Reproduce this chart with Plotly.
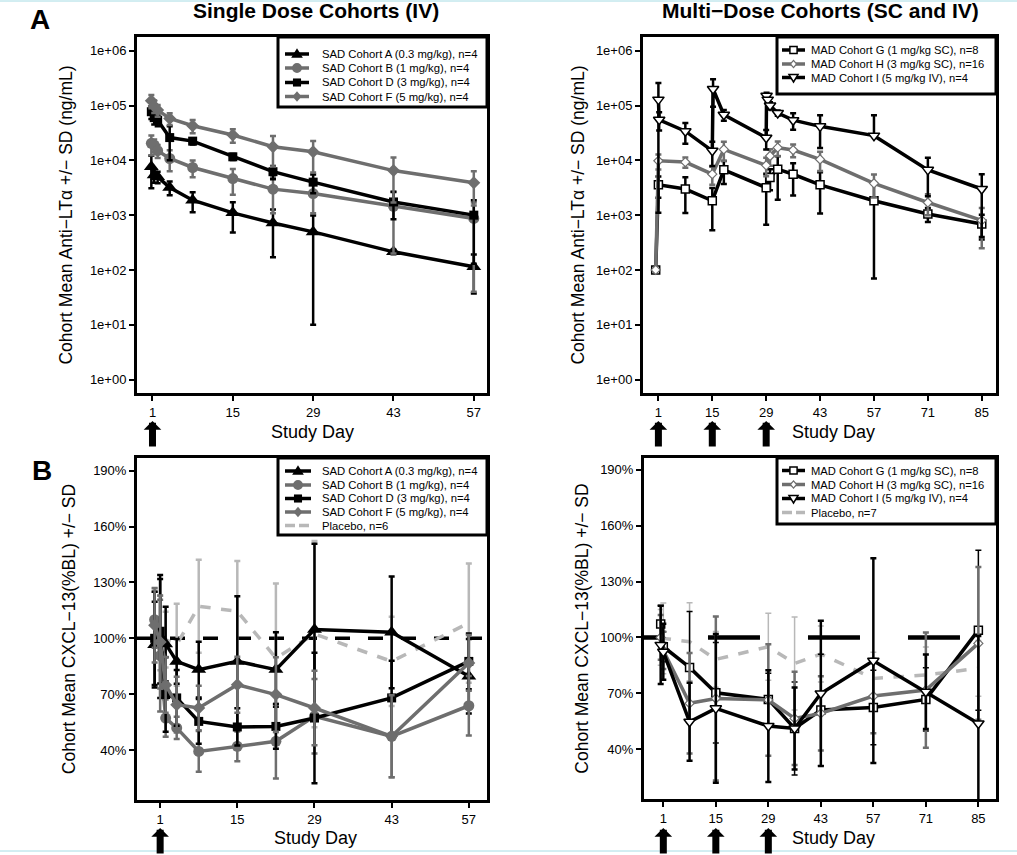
import plotly.graph_objects as go

FONT = "Arial, Liberation Sans, sans-serif"
BLACK = "#000000"
GRAY = "#6e6e6e"
LGRAY = "#b8b8b8"

# ---------------- Panel A (left): single-dose PK ----------------
sad_pk_days = [0.8, 1.3, 1.9, 4, 8, 15, 22, 29, 43, 57]
sad_pk_A = [7600, 5400, 5000, 3200, 1875, 1100, 720, 495, 214, 114]
sad_pk_A_sd = [4500, 1500, 1200, 900, 750, 620, 550, 485, 20, 77]
sad_pk_B = [20400, 19000, 15000, 10800, 7400, 4650, 2980, 2480, 1450, 870]
sad_pk_B_sd = [8000, 5000, 4000, 4500, 2500, 2300, 1900, 1400, 1250, 830]
sad_pk_D = [77000, 60000, 54000, 26000, 22400, 11600, 6200, 4000, 1740, 1000]
sad_pk_D_sd = [20000, 15000, 12000, 16000, 3000, 1500, 1700, 1500, 900, 870]
sad_pk_F = [122000, 98000, 82600, 58000, 42700, 29000, 17700, 14300, 6500, 3900]
sad_pk_F_sd = [33000, 25000, 20000, 14000, 11500, 8000, 10000, 8300, 4800, 2400]

# ---------------- Panel A (right): multi-dose PK ----------------
mad_pk_GH_days = [0.3, 1, 8, 15, 18, 29, 30, 32, 36, 43, 57, 71, 85]
mad_pk_G = [100, 3570, 2990, 1830, 6700, 3170, 4850, 6900, 5570, 3570, 1830, 1050, 690]
mad_pk_G_sd = [0, 1500, 1900, 1300, 3000, 2500, 2000, 5000, 3300, 2500, 1760, 300, 330]
mad_pk_H = [100, 9800, 9300, 5600, 15800, 8100, 12000, 17000, 15400, 10400, 3800, 1700, 800]
mad_pk_H_sd = [0, 3000, 2000, 2000, 6000, 3000, 4000, 5000, 4000, 4000, 1700, 700, 550]
mad_pk_I_days = [1, 1.2, 8, 15, 15.2, 18, 29, 29.1, 29.4, 30, 32, 36, 43, 57, 71, 85]
mad_pk_I = [128000, 55000, 34000, 14900, 200000, 68000, 25800, 151000, 128000, 100000,
            73000, 54000, 41700, 28200, 6700, 3000]
mad_pk_I_plus = [129000, 20000, 14000, 7000, 102000, 15000, 10000, 20000, 20000, 15000,
                 8000, 18000, 25000, 38000, 4500, 2600]
mad_pk_I_minus = [126900, 20000, 14000, 7000, 105000, 15000, 10000, 20000, 20000, 15000,
                  8000, 18000, 25000, 0, 4500, 2600]

# ---------------- Panel B (left): single-dose CXCL-13 ----------------
sad_cx_days = [0, 1, 2, 4, 8, 15, 22, 29, 43, 57]
sad_cx_A = [96.6, 101, 97, 87.6, 83.2, 87.6, 83.2, 104.7, 103.2, 79.6]
sad_cx_A_sd = [23, 33, 20, 12, 15, 35, 20, 46, 30, 20]
sad_cx_B = [110, 90.7, 57.2, 51.9, 39.3, 42.0, 44.7, 58.1, 47.4, 63.8]
sad_cx_B_sd = [15, 30, 10, 6, 11, 8, 20, 20, 22, 16]
sad_cx_D = [100, 103.8, 69.8, 68.0, 55.4, 52.4, 52.7, 57.2, 68.0, 87.6]
sad_cx_D_sd = [25, 28, 20, 15, 12, 10, 12, 35, 20, 15]
sad_cx_F = [107, 98, 75, 64.4, 62.6, 75.1, 69.8, 62.6, 47.4, 86.8]
sad_cx_F_sd = [20, 25, 15, 15, 12, 15, 20, 20, 22, 15]
sad_cx_P = [111.8, 102.9, 99.3, 96.6, 117.2, 114.5, 89.4, 102.3, 87.6, 108.2]
sad_cx_P_sd = [15, 20, 15, 22, 25, 27, 40, 50, 24, 32]

# ---------------- Panel B (right): multi-dose CXCL-13 ----------------
mad_cx_days = [0.3, 1, 8, 15, 29, 36, 43, 57, 71, 85]
mad_cx_G = [107.2, 95.0, 83.9, 70.3, 66.7, 51.1, 61.0, 62.4, 66.7, 103.9]
mad_cx_G_sd = [10, 8, 30, 27, 14, 25, 30, 20, 17, 43]
mad_cx_H = [100, 93, 64.6, 67.2, 66.4, 56.5, 59.2, 68.5, 71.7, 96.8]
mad_cx_H_sd = [12, 10, 27, 44, 30, 25, 20, 20, 31, 41]
mad_cx_I = [96, 92.3, 54.7, 61.9, 52.4, 51.1, 69.9, 87.5, 70.8, 53.8]
mad_cx_I_sd = [21, 15, 21, 40, 30, 22, 39, 55, 20, 47]
mad_cx_P = [100, 99.5, 97.7, 88.2, 95.0, 86.0, 91.1, 78.0, 79.8, 83.4]
mad_cx_P_sd = [15, 19, 21, 15, 18, 25, 15, 14, 15, 15]

# tick labels
pk_tickvals = [1, 10, 100, 1000, 10000, 100000, 1000000]
pk_ticktext = ["1e+00", "1e+01", "1e+02", "1e+03", "1e+04", "1e+05", "1e+06"]
cx_tickvals = [40, 70, 100, 130, 160, 190]
cx_ticktext = ["40%", "70%", "100%", "130%", "160%", "190%"]
sad_xticks = [1, 15, 29, 43, 57]
mad_xticks = [1, 15, 29, 43, 57, 71, 85]
sad_dose_days = [1]
mad_dose_days = [1, 15, 29]
baseline_pct = 100

SAD_NAMES = ["SAD Cohort A (0.3 mg/kg), n=4", "SAD Cohort B (1 mg/kg), n=4",
             "SAD Cohort D (3 mg/kg), n=4", "SAD Cohort F (5 mg/kg), n=4"]
MAD_NAMES = ["MAD Cohort G (1 mg/kg SC), n=8", "MAD Cohort H (3 mg/kg SC), n=16",
             "MAD Cohort I (5 mg/kg IV), n=4"]

W, H = 1017, 855
fig = go.Figure()

# style per series: (color, symbol, size, fill, line colour, line width of marker)
STY = {
    "A": (BLACK, "triangle-up", 13, None, None, 0),
    "B": (GRAY, "circle", 11, None, None, 0),
    "D": (BLACK, "square", 9, None, None, 0),
    "F": (GRAY, "diamond", 10, None, None, 0),
    "G": (BLACK, "square", 8, "white", BLACK, 1.5),
    "H": (GRAY, "diamond", 7, "white", GRAY, 1.2),
    "I": (BLACK, "triangle-down", 10, "white", BLACK, 1.5),
}


def add(x, y, plus, name, key, xa, ya, minus=None, ethick=2.5):
    color, symbol, size, fill, mline, mlw = STY[key]
    err = dict(type="data", array=plus, color=color, thickness=ethick, width=3, visible=True)
    if minus is not None:
        err["symmetric"] = False
        err["arrayminus"] = minus
    fig.add_trace(go.Scatter(
        x=x, y=y, name=name, mode="lines+markers", showlegend=False,
        line=dict(color=color, width=3.5),
        marker=dict(symbol=symbol, size=size, color=fill if fill else color,
                    line=dict(color=mline if mline else color, width=mlw)),
        error_y=err, xaxis=xa, yaxis=ya))


def add_placebo(x, y, sd, name, xa, ya, ethick=2.5):
    fig.add_trace(go.Scatter(
        x=x, y=y, name=name, mode="lines", showlegend=False,
        line=dict(color=LGRAY, width=3.5, dash="dash"),
        error_y=dict(type="data", array=sd, color=LGRAY, thickness=ethick, width=3),
        xaxis=xa, yaxis=ya))


# Panel A left
add(sad_pk_days, sad_pk_A, sad_pk_A_sd, SAD_NAMES[0], "A", "x", "y")
add(sad_pk_days, sad_pk_B, sad_pk_B_sd, SAD_NAMES[1], "B", "x", "y")
add(sad_pk_days, sad_pk_D, sad_pk_D_sd, SAD_NAMES[2], "D", "x", "y")
add(sad_pk_days, sad_pk_F, sad_pk_F_sd, SAD_NAMES[3], "F", "x", "y")
# Panel A right
add(mad_pk_GH_days, mad_pk_G, mad_pk_G_sd, MAD_NAMES[0], "G", "x2", "y2")
add(mad_pk_GH_days, mad_pk_H, mad_pk_H_sd, MAD_NAMES[1], "H", "x2", "y2")
add(mad_pk_I_days, mad_pk_I, mad_pk_I_plus, MAD_NAMES[2], "I", "x2", "y2", minus=mad_pk_I_minus)
# Panel B left
add_placebo(sad_cx_days, sad_cx_P, sad_cx_P_sd, "Placebo, n=6", "x3", "y3")
add(sad_cx_days, sad_cx_A, sad_cx_A_sd, SAD_NAMES[0], "A", "x3", "y3")
add(sad_cx_days, sad_cx_B, sad_cx_B_sd, SAD_NAMES[1], "B", "x3", "y3")
add(sad_cx_days, sad_cx_D, sad_cx_D_sd, SAD_NAMES[2], "D", "x3", "y3")
add(sad_cx_days, sad_cx_F, sad_cx_F_sd, SAD_NAMES[3], "F", "x3", "y3")
# Panel B right
add_placebo(mad_cx_days, mad_cx_P, mad_cx_P_sd, "Placebo, n=7", "x4", "y4", ethick=1.5)
add(mad_cx_days, mad_cx_G, mad_cx_G_sd, MAD_NAMES[0], "G", "x4", "y4", ethick=1.5)
add(mad_cx_days, mad_cx_H, mad_cx_H_sd, MAD_NAMES[1], "H", "x4", "y4")
add(mad_cx_days, mad_cx_I, mad_cx_I_sd, MAD_NAMES[2], "I", "x4", "y4")


def px_x(p):
    return p / W


def px_y(p):
    return 1 - p / H


axis_common = dict(showline=True, mirror=True, linecolor="black", linewidth=3,
                   ticks="outside", ticklen=5, tickwidth=2, tickcolor="black",
                   showgrid=False, zeroline=False,
                   tickfont=dict(family=FONT, size=13, color="black"))
ytfont = dict(family=FONT, size=17.5, color="black")
PK_TITLE = "Cohort Mean Anti\u2212LT\u03b1 +/\u2212 SD (ng/mL)"
CX_TITLE = "Cohort Mean CXCL\u221213(%BL) +/\u2212 SD"

layout = dict(
    width=W, height=H, margin=dict(l=0, r=0, t=0, b=0),
    paper_bgcolor="white", plot_bgcolor="white", showlegend=False,
    font=dict(family=FONT, color="black"),
    xaxis=dict(domain=[px_x(137), px_x(487)], range=[-1.7, 59.3], anchor="y",
               tickmode="array", tickvals=sad_xticks, **axis_common),
    yaxis=dict(domain=[px_y(393), px_y(37)], type="log", range=[-0.245, 6.25], anchor="x",
               tickmode="array", tickvals=pk_tickvals, ticktext=pk_ticktext,
               title=dict(text=PK_TITLE, font=ytfont, standoff=13), **axis_common),
    xaxis2=dict(domain=[px_x(643), px_x(996)], range=[-3.0, 88.7], anchor="y2",
                tickmode="array", tickvals=mad_xticks, **axis_common),
    yaxis2=dict(domain=[px_y(393), px_y(37)], type="log", range=[-0.245, 6.25], anchor="x2",
                tickmode="array", tickvals=pk_tickvals, ticktext=pk_ticktext,
                title=dict(text=PK_TITLE, font=ytfont, standoff=7), **axis_common),
    xaxis3=dict(domain=[px_x(137), px_x(487)], range=[-3.2, 60.3], anchor="y3",
                tickmode="array", tickvals=sad_xticks, **axis_common),
    yaxis3=dict(domain=[px_y(800), px_y(458)], range=[13.2, 196.8], anchor="x3",
                tickmode="array", tickvals=cx_tickvals, ticktext=cx_ticktext,
                title=dict(text=CX_TITLE, font=ytfont, standoff=14), **axis_common),
    xaxis4=dict(domain=[px_x(644), px_x(996)], range=[-4.15, 89.7], anchor="y4",
                tickmode="array", tickvals=mad_xticks, **axis_common),
    yaxis4=dict(domain=[px_y(799), px_y(458)], range=[13.2, 196.4], anchor="x4",
                tickmode="array", tickvals=cx_tickvals, ticktext=cx_ticktext,
                title=dict(text=CX_TITLE, font=ytfont, standoff=8), **axis_common),
)
fig.update_layout(**layout)

shapes = []
ann = []

# 100% reference lines (clipped to the subplot)
shapes.append(dict(type="line", xref="x3", x0=-3.2, x1=60.3, yref="y3", y0=baseline_pct, y1=baseline_pct,
                   line=dict(color="black", width=3.5, dash="15px,18px"), layer="below"))
shapes.append(dict(type="line", xref="x4", x0=-13.75, x1=89.7, yref="y4", y0=baseline_pct, y1=baseline_pct,
                   line=dict(color="black", width=4.5, dash="52px,48px"), layer="below"))

# page border lines (light cyan)
for yy in (1, 851):
    shapes.append(dict(type="line", xref="paper", yref="paper", x0=0, x1=1, y0=px_y(yy), y1=px_y(yy),
                       line=dict(color="#a6dce4", width=1)))


# ---------- hand-made legends (compact like the original) ----------
def glyph(key, cx, cy, scale=1.0):
    color, symbol, size, fill, mline, mlw = STY[key]
    r = size * scale / 2.0
    fc = fill if fill else color
    lc = mline if mline else color
    lw = max(mlw, 0.1) if mline else 0
    if symbol == "circle":
        return dict(type="circle", xref="paper", yref="paper",
                    x0=px_x(cx - r), x1=px_x(cx + r), y0=px_y(cy + r), y1=px_y(cy - r),
                    fillcolor=fc, line=dict(color=lc, width=lw))
    if symbol == "square":
        return dict(type="rect", xref="paper", yref="paper",
                    x0=px_x(cx - r), x1=px_x(cx + r), y0=px_y(cy + r), y1=px_y(cy - r),
                    fillcolor=fc, line=dict(color=lc, width=lw))
    if symbol == "diamond":
        pts = [(cx, cy - r * 1.15), (cx + r, cy), (cx, cy + r * 1.15), (cx - r, cy)]
    elif symbol == "triangle-up":
        pts = [(cx, cy - r), (cx + r, cy + r * 0.65), (cx - r, cy + r * 0.65)]
    else:  # triangle-down
        pts = [(cx, cy + r), (cx + r, cy - r * 0.65), (cx - r, cy - r * 0.65)]
    path = "M " + " L ".join(f"{px_x(a):.5f},{px_y(b):.5f}" for a, b in pts) + " Z"
    return dict(type="path", xref="paper", yref="paper", path=path,
                fillcolor=fc, line=dict(color=lc, width=lw))


def legend(box, rows, keys, names, sym, text_x, fsize, placebo=None):
    l, t, r, b = box
    shapes.append(dict(type="rect", xref="paper", yref="paper",
                       x0=px_x(l), x1=px_x(r), y0=px_y(b), y1=px_y(t),
                       fillcolor="white", line=dict(color="black", width=3)))
    for i, (k, nm) in enumerate(zip(keys, names)):
        y = rows[i]
        color = STY[k][0]
        shapes.append(dict(type="line", xref="paper", yref="paper",
                           x0=px_x(sym[0]), x1=px_x(sym[1]), y0=px_y(y), y1=px_y(y),
                           line=dict(color=color, width=3.5)))
        shapes.append(glyph(k, (sym[0] + sym[1]) / 2.0, y, 0.9))
        ann.append(dict(x=px_x(text_x), y=px_y(y), xref="paper", yref="paper", text=nm,
                        showarrow=False, xanchor="left", yanchor="middle",
                        font=dict(family=FONT, size=fsize, color="black")))
    if placebo:
        y = rows[len(keys)]
        shapes.append(dict(type="line", xref="paper", yref="paper",
                           x0=px_x(sym[0]), x1=px_x(sym[1]), y0=px_y(y), y1=px_y(y),
                           line=dict(color=LGRAY, width=3.5, dash="10px,4px")))
        ann.append(dict(x=px_x(text_x), y=px_y(y), xref="paper", yref="paper", text=placebo,
                        showarrow=False, xanchor="left", yanchor="middle",
                        font=dict(family=FONT, size=fsize, color="black")))


legend((278, 37, 487, 107), [54, 68, 82.5, 96.5], ["A", "B", "D", "F"], SAD_NAMES, (285, 309), 320, 11.3)
legend((777, 37, 996, 94), [50, 64, 77.5], ["G", "H", "I"], MAD_NAMES, (782, 805), 809, 11.2)
legend((278, 458, 487, 535), [471, 485, 498.5, 512, 525.5], ["A", "B", "D", "F"], SAD_NAMES, (285, 311), 320,
       11.3, placebo="Placebo, n=6")
legend((777, 458, 996, 524), [470.5, 484.5, 498.5, 512.5], ["G", "H", "I"], MAD_NAMES, (782, 805), 809,
       11.2, placebo="Placebo, n=7")

# dosing arrows
arrow = dict(text="", showarrow=True, arrowhead=1, arrowsize=0.42, arrowwidth=7, arrowcolor="black",
             yref="paper", ax=0)
for d in sad_dose_days:
    ann.append(dict(x=d, xref="x", y=px_y(421), ay=27, **arrow))
    ann.append(dict(x=d, xref="x3", y=px_y(828), ay=34, **arrow))
for d in mad_dose_days:
    ann.append(dict(x=d, xref="x2", y=px_y(421), ay=27, **arrow))
    ann.append(dict(x=d, xref="x4", y=px_y(828), ay=34, **arrow))

# x-axis titles
for (xc, yc) in ((312, 432), (833, 432), (315, 838), (833, 838)):
    ann.append(dict(x=px_x(xc), y=px_y(yc), xref="paper", yref="paper", showarrow=False,
                    text="Study Day", font=dict(family=FONT, size=18, color="black"),
                    xanchor="center", yanchor="middle"))

# titles and panel letters
ann.append(dict(x=px_x(316), y=px_y(11), xref="paper", yref="paper", showarrow=False,
                text="<b>Single Dose Cohorts (IV)</b>", font=dict(family=FONT, size=21, color="black"),
                xanchor="center", yanchor="middle"))
ann.append(dict(x=px_x(820), y=px_y(11), xref="paper", yref="paper", showarrow=False,
                text="<b>Multi\u2212Dose Cohorts (SC and IV)</b>", font=dict(family=FONT, size=21, color="black"),
                xanchor="center", yanchor="middle"))
ann.append(dict(x=px_x(40), y=px_y(19), xref="paper", yref="paper", showarrow=False,
                text="<b>A</b>", font=dict(family=FONT, size=28, color="black"),
                xanchor="center", yanchor="middle"))
ann.append(dict(x=px_x(42), y=px_y(470), xref="paper", yref="paper", showarrow=False,
                text="<b>B</b>", font=dict(family=FONT, size=28, color="black"),
                xanchor="center", yanchor="middle"))

fig.update_layout(shapes=shapes, annotations=ann)

fig.write_html("out.html", config={"displayModeBar": False},
               post_script="document.body.style.margin='0px';")
